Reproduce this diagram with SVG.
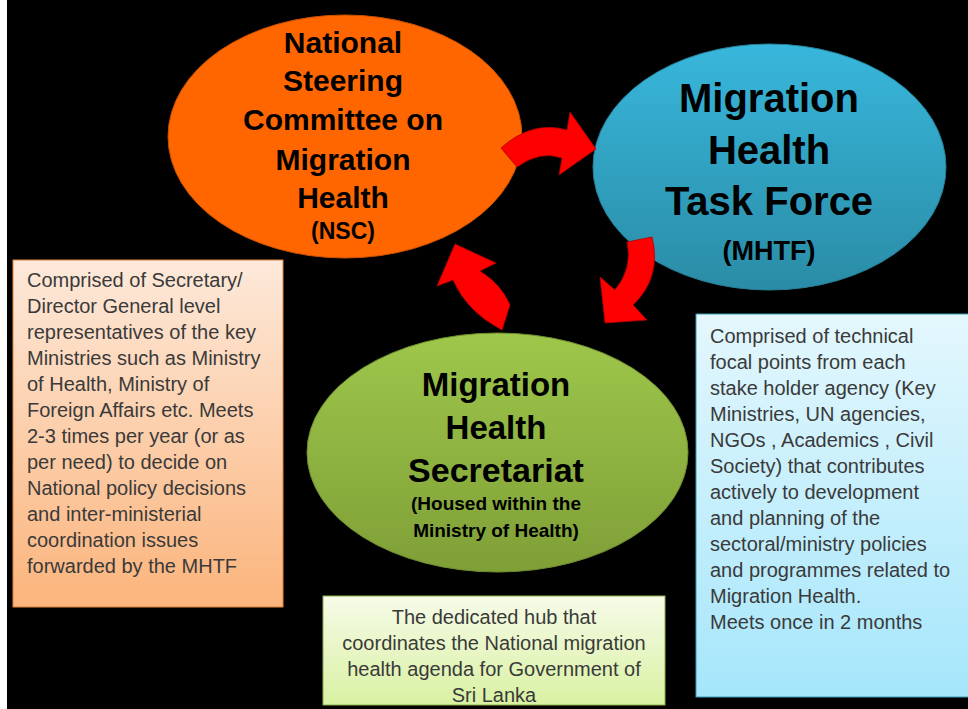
<svg xmlns="http://www.w3.org/2000/svg" width="968" height="709" viewBox="0 0 968 709">
<defs>
<linearGradient id="gOrangeBox" x1="0" y1="0" x2="0" y2="1"><stop offset="0" stop-color="#fde9da"/><stop offset="1" stop-color="#fbb47c"/></linearGradient>
<linearGradient id="gBlueBox" x1="0" y1="0" x2="0" y2="1"><stop offset="0" stop-color="#e4f7fd"/><stop offset="1" stop-color="#a5e6fb"/></linearGradient>
<linearGradient id="gGreenBox" x1="0" y1="0" x2="0" y2="1"><stop offset="0" stop-color="#f6fbe8"/><stop offset="1" stop-color="#d9f1a2"/></linearGradient>
<linearGradient id="gBlue" x1="0" y1="0" x2="0" y2="1"><stop offset="0" stop-color="#38b7dc"/><stop offset="1" stop-color="#2a8ca6"/></linearGradient>
<linearGradient id="gGreen" x1="0" y1="0" x2="0" y2="1"><stop offset="0" stop-color="#9ec74b"/><stop offset="1" stop-color="#7f9f37"/></linearGradient>
</defs>
<style>
text{font-family:'Liberation Sans',Arial,Helvetica,sans-serif}
.head{font-weight:bold;fill:#000;text-anchor:middle}
.body{font-size:20px;fill:#3a3a3a}
.arrow{fill:#ff0000;stroke:#b00000;stroke-width:0.8}
</style>
<rect x="0" y="0" width="968" height="709" fill="#ffffff"/>
<rect x="7" y="0" width="961" height="709" fill="#000000"/>

<g id="nsc">
<ellipse cx="345" cy="136.5" rx="177" ry="121.5" fill="#ff6600" stroke="#c85000" stroke-width="1"/>
<text class="head" font-family="Liberation Sans" font-size="30" x="343" y="53">National</text>
<text class="head" font-family="Liberation Sans" font-size="30" x="343" y="91">Steering</text>
<text class="head" font-family="Liberation Sans" font-size="30" x="343" y="130">Committee on</text>
<text class="head" font-family="Liberation Sans" font-size="30" x="343" y="170">Migration</text>
<text class="head" font-family="Liberation Sans" font-size="30" x="343" y="208">Health</text>
<text class="head" font-family="Liberation Sans" font-size="23" x="343" y="239">(NSC)</text>
</g>

<g id="mhtf">
<ellipse cx="769.5" cy="167" rx="176.5" ry="123" fill="url(#gBlue)" stroke="#267f97" stroke-width="1"/>
<text class="head" font-family="Liberation Sans" font-size="40" x="769" y="112">Migration</text>
<text class="head" font-family="Liberation Sans" font-size="40" x="769" y="164">Health</text>
<text class="head" font-family="Liberation Sans" font-size="40" x="769" y="215">Task Force</text>
<text class="head" font-family="Liberation Sans" font-size="27" x="769" y="260">(MHTF)</text>
</g>

<g id="secretariat">
<ellipse cx="497.5" cy="452.5" rx="190.5" ry="119.5" fill="url(#gGreen)" stroke="#6f8c2e" stroke-width="1"/>
<text class="head" font-family="Liberation Sans" font-size="33" x="496" y="396">Migration</text>
<text class="head" font-family="Liberation Sans" font-size="33" x="496" y="439">Health</text>
<text class="head" font-family="Liberation Sans" font-size="34" x="496" y="482">Secretariat</text>
<text class="head" font-family="Liberation Sans" font-size="19" x="496" y="510">(Housed within the</text>
<text class="head" font-family="Liberation Sans" font-size="19" x="496" y="537">Ministry of Health)</text>
</g>

<g id="connectors">
<path class="arrow" d="M501,148 Q532,120 567,130 L570,112 L596,149 L559,175 L562,158 Q540,150 517,167 Z"/>
<path class="arrow" d="M627,242 L652,237 Q662,277 633,305 L647,320 L605,323 L600,277 L615,290 Q633,268 627,242 Z"/>
<path class="arrow" d="M455,244 L496,263 L480,271 Q501,284 510,305 L502,330 Q467,312 453,280 L437,286 Z"/>
</g>

<g id="nsc-desc" font-family="Liberation Sans">
<rect x="13" y="260" width="270" height="347" fill="url(#gOrangeBox)" stroke="#e0833a" stroke-width="1"/>
<text class="body" x="27" y="287">Comprised of Secretary/</text>
<text class="body" x="27" y="313">Director General level</text>
<text class="body" x="27" y="339">representatives of the key</text>
<text class="body" x="27" y="365">Ministries such as Ministry</text>
<text class="body" x="27" y="391">of Health, Ministry of</text>
<text class="body" x="27" y="417">Foreign Affairs etc. Meets</text>
<text class="body" x="27" y="443">2-3 times per year (or as</text>
<text class="body" x="27" y="469">per need) to decide on</text>
<text class="body" x="27" y="495">National policy decisions</text>
<text class="body" x="27" y="521">and inter-ministerial</text>
<text class="body" x="27" y="547">coordination issues</text>
<text class="body" x="27" y="573">forwarded by the MHTF</text>
</g>

<g id="mhtf-desc" font-family="Liberation Sans">
<rect x="696" y="314" width="280" height="383" fill="url(#gBlueBox)" stroke="#3a9ab5" stroke-width="1"/>
<text class="body" x="710" y="343">Comprised of technical</text>
<text class="body" x="710" y="369">focal points from each</text>
<text class="body" x="710" y="395">stake holder agency (Key</text>
<text class="body" x="710" y="421">Ministries, UN agencies,</text>
<text class="body" x="710" y="447">NGOs , Academics , Civil</text>
<text class="body" x="710" y="473">Society) that contributes</text>
<text class="body" x="710" y="499">actively to development</text>
<text class="body" x="710" y="525">and planning of the</text>
<text class="body" x="710" y="551">sectoral/ministry policies</text>
<text class="body" x="710" y="577">and programmes related to</text>
<text class="body" x="710" y="603">Migration Health.</text>
<text class="body" x="710" y="629">Meets once in 2 months</text>
</g>

<g id="secretariat-desc" font-family="Liberation Sans">
<rect x="323" y="596" width="342" height="109" fill="url(#gGreenBox)" stroke="#8fb04a" stroke-width="1"/>
<text class="body" text-anchor="middle" x="494" y="624">The dedicated hub that</text>
<text class="body" text-anchor="middle" x="494" y="650">coordinates the National migration</text>
<text class="body" text-anchor="middle" x="494" y="676">health agenda for Government of</text>
<text class="body" text-anchor="middle" x="494" y="702">Sri Lanka</text>
</g>
</svg>
